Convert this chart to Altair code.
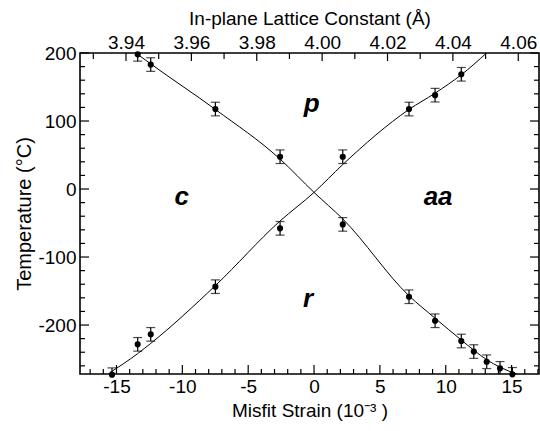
import altair as alt
import pandas as pd

# Transition temperatures vs. misfit strain (10^-3), error +/- in degrees C
down_strain = [-13.39, -12.40, -7.49, -2.58, 2.18, 7.21, 9.19, 11.18, 12.13, 13.11, 14.12, 15.06]
down_temp = [198, 183, 117.6, 47.5, -52, -158.4, -193.7, -223.5, -239, -254, -263.7, -272.5]
down_err = [10, 10, 10, 10, 10, 10, 10, 10, 10, 10, 10, 10]

up_strain = [-15.34, -13.39, -12.40, -7.49, -2.58, 2.18, 7.21, 9.19, 11.18]
up_temp = [-273, -228.4, -213.7, -143.6, -57.8, 47.5, 117.6, 138, 168.7]
up_err = [10, 10, 10, 10, 10, 10, 10, 10, 10]

# Fitted phase boundaries
fit_down_strain = [-13.39, -12.4, -7.49, -2.58, 0, 2.18, 7.21, 9.19, 11.18, 12.13, 13.11, 14.12, 15.4]
fit_down_temp = [198, 184, 117, 44, -5, -44, -157, -190, -222, -237, -251, -262, -272]
fit_up_strain = [-15.5, -13.39, -12.4, -7.49, -2.58, 0, 2.18, 7.21, 9.19, 11.18, 13.1]
fit_up_temp = [-270, -242, -227, -142, -47, -5, 36, 117, 141, 168, 200]

# Phase region labels
phase_names = ["p", "c", "aa", "r"]
phase_strain = [-0.17, -10.05, 9.42, -0.46]
phase_temp = [113.7, -23.5, -23.5, -173.5]

# Axis ticks
strain_major = [-15, -10, -5, 0, 5, 10, 15]
strain_minor = [v for v in range(-17, 18) if v % 5 != 0]
temp_major = [-200, -100, 0, 100, 200]
temp_minor = [v for v in range(-260, 200, 20) if v % 100 != 0]
lattice_major = [3.94, 3.96, 3.98, 4.00, 4.02, 4.04, 4.06]
lattice_minor = [3.93, 3.95, 3.97, 3.99, 4.01, 4.03, 4.05]

W, H = 459, 321
FONT = "Liberation Sans"
FS = 19
STRAIN_DOMAIN = [-17.77, 17.08]
TEMP_DOMAIN = [-272, 200]
LATTICE_DOMAIN = [3.92593, 4.06634]

xs = alt.Scale(domain=STRAIN_DOMAIN, nice=False, zero=False)
ys = alt.Scale(domain=TEMP_DOMAIN, nice=False, zero=False)
ls = alt.Scale(domain=LATTICE_DOMAIN, nice=False, zero=False)

pts = pd.concat([
    pd.DataFrame({"strain": down_strain, "temp": down_temp, "err": down_err}),
    pd.DataFrame({"strain": up_strain, "temp": up_temp, "err": up_err}),
])
pts["lo"] = pts["temp"] - pts["err"]
pts["hi"] = pts["temp"] + pts["err"]

# plain hyphen for negative tick labels
plain_label = "'' + datum.value"

x_axis = alt.Axis(values=strain_major, tickSize=0, domain=False, grid=False, labelExpr=plain_label,
                  labelFontSize=FS, labelFont=FONT, labelColor="black", labelPadding=3,
                  title="Misfit Strain (10⁻³ )", titleFont=FONT, titleFontSize=FS,
                  titleFontWeight="normal", titleColor="black", titlePadding=5)
y_axis = alt.Axis(values=temp_major, tickSize=0, domain=False, grid=False, labelExpr=plain_label,
                  labelFontSize=FS, labelFont=FONT, labelColor="black", labelPadding=4,
                  title="Temperature (°C)", titleFont=FONT, titleFontSize=FS + 1,
                  titleFontWeight="normal", titleColor="black", titlePadding=3)

base = alt.Chart(pts)

points = base.mark_circle(size=38, color="black", opacity=1).encode(
    x=alt.X("strain:Q", scale=xs, axis=x_axis),
    y=alt.Y("temp:Q", scale=ys, axis=y_axis),
)
bars = base.mark_rule(color="black", strokeWidth=1.2, clip=True).encode(
    x=alt.X("strain:Q", scale=xs), y=alt.Y("lo:Q", scale=ys), y2="hi:Q"
)
cap_lo = base.mark_tick(color="black", orient="horizontal", size=9, thickness=1.2, clip=True).encode(
    x=alt.X("strain:Q", scale=xs), y=alt.Y("lo:Q", scale=ys)
)
cap_hi = base.mark_tick(color="black", orient="horizontal", size=9, thickness=1.2, clip=True).encode(
    x=alt.X("strain:Q", scale=xs), y=alt.Y("hi:Q", scale=ys)
)

fit_down = alt.Chart(pd.DataFrame({"strain": fit_down_strain, "temp": fit_down_temp})).mark_line(
    color="black", strokeWidth=1, interpolate="monotone", clip=True
).encode(x=alt.X("strain:Q", scale=xs), y=alt.Y("temp:Q", scale=ys))
fit_up = alt.Chart(pd.DataFrame({"strain": fit_up_strain, "temp": fit_up_temp})).mark_line(
    color="black", strokeWidth=1, interpolate="monotone", clip=True
).encode(x=alt.X("strain:Q", scale=xs), y=alt.Y("temp:Q", scale=ys))

labels = alt.Chart(pd.DataFrame({"name": phase_names, "strain": phase_strain, "temp": phase_temp})).mark_text(
    font=FONT, fontSize=26, fontWeight="bold", fontStyle="italic", color="black",
    align="center", baseline="alphabetic"
).encode(x=alt.X("strain:Q", scale=xs), y=alt.Y("temp:Q", scale=ys), text="name:N")

# Inward tick marks on the four sides
bot_major = alt.Chart(pd.DataFrame({"strain": strain_major})).mark_rule(color="black", strokeWidth=1.2).encode(
    x=alt.X("strain:Q", scale=xs), y=alt.value(H), y2=alt.value(H - 9))
bot_minor = alt.Chart(pd.DataFrame({"strain": strain_minor})).mark_rule(color="black", strokeWidth=1.2).encode(
    x=alt.X("strain:Q", scale=xs), y=alt.value(H), y2=alt.value(H - 5))
left_major = alt.Chart(pd.DataFrame({"temp": temp_major})).mark_rule(color="black", strokeWidth=1.2).encode(
    y=alt.Y("temp:Q", scale=ys), x=alt.value(0), x2=alt.value(9))
left_minor = alt.Chart(pd.DataFrame({"temp": temp_minor})).mark_rule(color="black", strokeWidth=1.2).encode(
    y=alt.Y("temp:Q", scale=ys), x=alt.value(0), x2=alt.value(5))
right_major = alt.Chart(pd.DataFrame({"temp": temp_major})).mark_rule(color="black", strokeWidth=1.2).encode(
    y=alt.Y("temp:Q", scale=ys), x=alt.value(W), x2=alt.value(W - 9))
right_minor = alt.Chart(pd.DataFrame({"temp": temp_minor})).mark_rule(color="black", strokeWidth=1.2).encode(
    y=alt.Y("temp:Q", scale=ys), x=alt.value(W), x2=alt.value(W - 5))

main = alt.layer(fit_down, fit_up, bars, cap_lo, cap_hi, points, labels,
                 bot_major, bot_minor, left_major, left_minor, right_major, right_minor)

top_axis = alt.Axis(orient="top", values=lattice_major, format=".2f", tickSize=0, domain=False,
                    grid=False, labelFontSize=FS, labelFont=FONT, labelColor="black", labelPadding=1,
                    title="In-plane Lattice Constant (Å)", titleFont=FONT, titleFontSize=FS,
                    titleFontWeight="normal", titleColor="black", titlePadding=5)
top_major = alt.Chart(pd.DataFrame({"lattice": lattice_major})).mark_rule(color="black", strokeWidth=1.2).encode(
    x=alt.X("lattice:Q", scale=ls, axis=top_axis), y=alt.value(0), y2=alt.value(8))
top_minor = alt.Chart(pd.DataFrame({"lattice": lattice_minor})).mark_rule(color="black", strokeWidth=1.2).encode(
    x=alt.X("lattice:Q", scale=ls), y=alt.value(0), y2=alt.value(6))
top = alt.layer(top_major, top_minor)

chart = alt.layer(main, top).resolve_scale(x="independent").properties(
    width=W, height=H, autosize="none",
    padding={"left": 80, "top": 53, "right": 1, "bottom": 57},
    background="white",
).configure_view(stroke="black", strokeWidth=1.6)

chart.save("out.html", embed_options={"renderer": "svg", "actions": False})
